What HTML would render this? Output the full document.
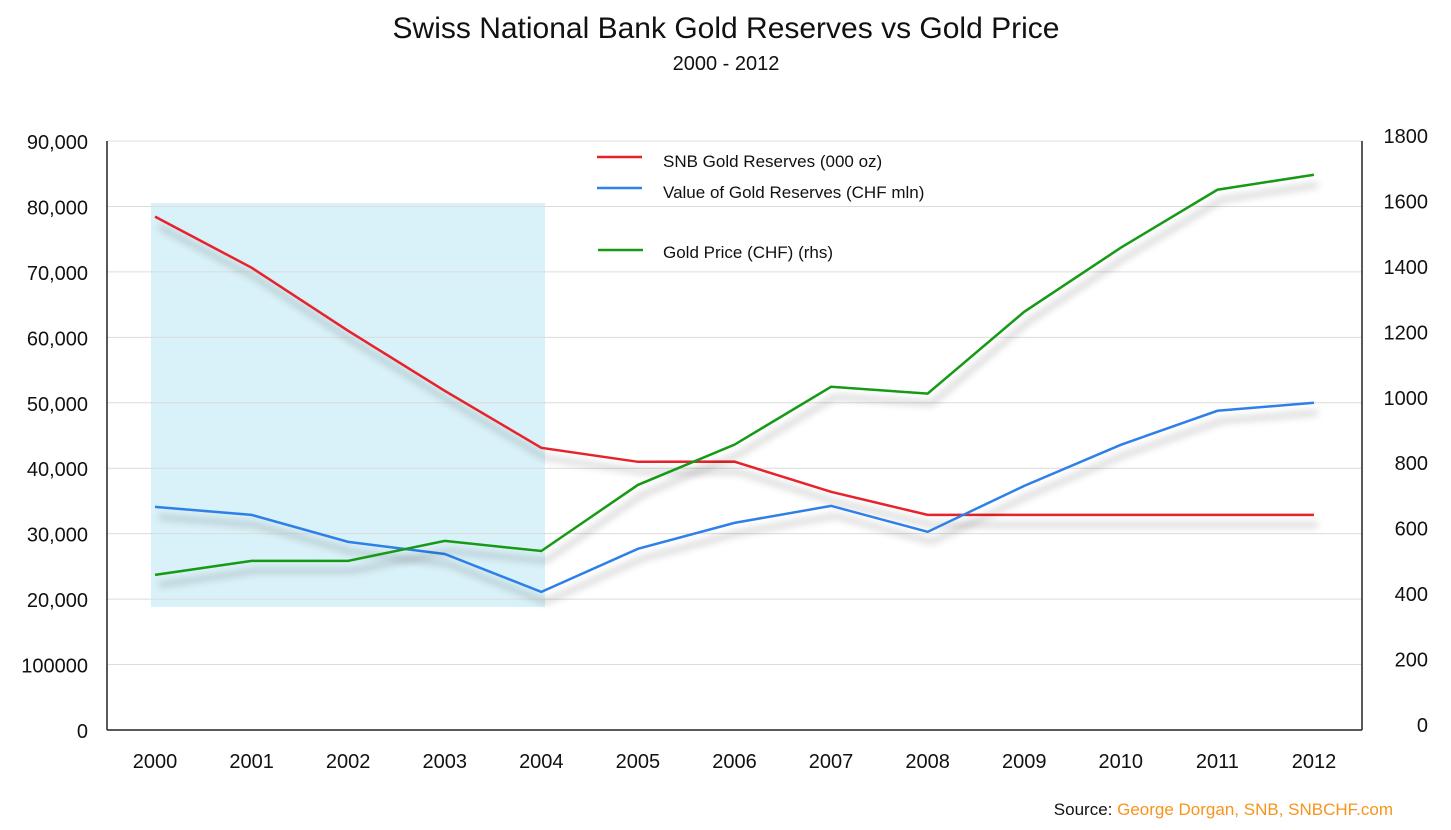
<!DOCTYPE html>
<html><head><meta charset="utf-8"><style>
body{margin:0;background:#fff;}
svg text{font-family:"Liberation Sans",sans-serif;}
</style></head><body>
<svg id="chart" width="1451" height="825" xmlns="http://www.w3.org/2000/svg">
<defs><filter id="sh" x="-5%" y="-20%" width="110%" height="160%"><feGaussianBlur in="SourceAlpha" stdDeviation="4"/><feOffset dx="4" dy="10"/><feComponentTransfer><feFuncA type="linear" slope="0.35"/></feComponentTransfer><feMerge><feMergeNode/><feMergeNode in="SourceGraphic"/></feMerge></filter></defs>
<text x="726" y="38" font-size="30" text-anchor="middle" fill="#111">Swiss National Bank Gold Reserves vs Gold Price</text>
<text x="726" y="70" font-size="20" text-anchor="middle" fill="#111">2000 - 2012</text>
<rect x="151" y="203" width="394" height="404" fill="#d9f1f8"/>
<g id="grid"></g><g id="axes"></g><g id="series"></g>
<g>
<line x1="597" y1="157" x2="642" y2="157" stroke="#e8202a" stroke-width="2.5"/>
<text x="663" y="167" font-size="17" fill="#111">SNB Gold Reserves (000 oz)</text>
<line x1="597" y1="188" x2="642" y2="188" stroke="#2f80e8" stroke-width="2.5"/>
<text x="663" y="198" font-size="17" fill="#111">Value of Gold Reserves (CHF mln)</text>
<line x1="598" y1="250" x2="643" y2="250" stroke="#169a16" stroke-width="2.5"/>
<text x="663" y="258" font-size="17" fill="#111">Gold Price (CHF) (rhs)</text>
</g>
<text x="1393" y="815" font-size="17" text-anchor="end" fill="#111">Source: <tspan fill="#f7941d">George Dorgan, SNB, SNBCHF.com</tspan></text>
</svg>
<script>
const years=["2000","2001","2002","2003","2004","2005","2006","2007","2008","2009","2010","2011","2012"];
const reserves=[78440,70640,61000,51830,43120,40980,41000,36390,32870,32870,32870,32870,32870];
const value=[34100,32870,28750,26900,21100,27680,31650,34250,30280,37300,43580,48780,50000];
const price=[474,517,517,578,547,749,872,1049,1028,1278,1474,1651,1697];
const leftTicks=["0","100000","20,000","30,000","40,000","50,000","60,000","70,000","80,000","90,000"];
const rightTicks=["0","200","400","600","800","1000","1200","1400","1600","1800"];
const NS="http://www.w3.org/2000/svg";
const x=i=>155+i*96.58;
const yL=v=>730-v*(589/90000);
const yR=v=>730-v*(589/1800);
function mk(t,a,p){const e=document.createElementNS(NS,t);for(const k in a)e.setAttribute(k,a[k]);p.appendChild(e);return e;}
const g=document.getElementById('grid'),ax=document.getElementById('axes'),s=document.getElementById('series');
leftTicks.forEach((t,i)=>{
 const y=yL(i*10000);
 if(i>0){const l=mk('line',{x1:107,x2:1362,y1:y,y2:y,stroke:'#dcdcdc','stroke-width':1},g);
 
 }
 const tx=mk('text',{x:88,y:y+8,'font-size':20,'text-anchor':'end',fill:'#111'},ax);tx.textContent=t;
 
 
});
rightTicks.forEach((t,i)=>{
 const y=yR(i*200);
 const tx=mk('text',{x:1428,y:y+2,'font-size':20,'text-anchor':'end',fill:'#111'},ax);tx.textContent=t;
 
 
});
years.forEach((t,i)=>{
 const tx=mk('text',{x:x(i),y:768,'font-size':20,'text-anchor':'middle',fill:'#111'},ax);tx.textContent=t;
 
 
});
const a1=mk('line',{x1:107,x2:107,y1:141,y2:730,stroke:'#222','stroke-width':1.5},ax);


const a2=mk('line',{x1:1362,x2:1362,y1:141,y2:730,stroke:'#222','stroke-width':1.5},ax);


const a3=mk('line',{x1:107,x2:1362,y1:730,y2:730,stroke:'#222','stroke-width':1.5},ax);


function line(arr,yf,col,name){
 const p=mk('polyline',{points:arr.map((v,i)=>x(i)+','+yf(v)).join(' '),fill:'none',stroke:col,'stroke-width':2.5,filter:'url(#sh)'},s);
 
 
}
line(reserves,yL,'#e8202a','reserves-line');
line(value,yL,'#2f80e8','value-line');
line(price,yR,'#169a16','price-line');
</script>
</body></html>
